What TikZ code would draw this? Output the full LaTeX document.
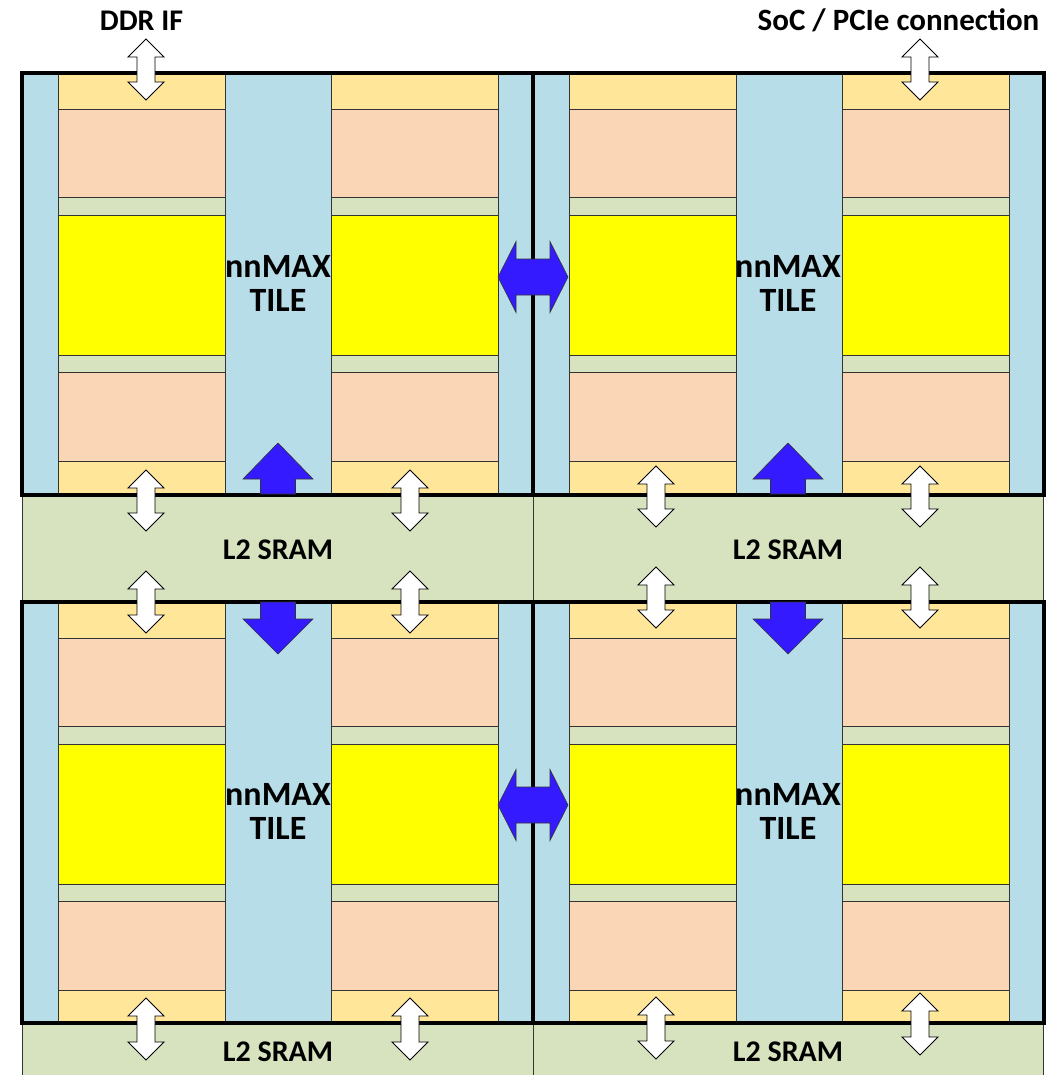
\documentclass[tikz,border=0pt]{standalone}
\usepackage{fontspec}
\setmainfont{Carlito}
\definecolor{tblue}{RGB}{183,221,232}
\definecolor{lyel}{RGB}{255,230,153}
\definecolor{peach}{RGB}{251,214,182}
\definecolor{lgreen}{RGB}{215,227,191}
\definecolor{byel}{RGB}{255,255,0}
\definecolor{barrow}{RGB}{51,26,255}
\tikzset{
  thinbox/.style={draw=black!80, line width=0.8pt},
  thickbox/.style={draw=black, line width=4pt},
  warrow/.style={fill=white, draw=black, line width=0.9pt, line join=miter},
  barrowst/.style={fill=barrow, draw=black!80, line width=0.6pt, line join=miter},
  lbl/.style={font=\bfseries\fontsize{30}{36}\selectfont, inner sep=0pt, anchor=base},
  toplbl/.style={font=\bfseries\fontsize{31}{37}\selectfont, inner sep=0pt, anchor=base},
  tlbl/.style={font=\bfseries\fontsize{34}{40}\selectfont, inner sep=0pt, anchor=base},
}
\newcommand\tilebody[2]{%
  \fill[tblue] (#1,#2) rectangle ++(511,421);
  \foreach \cx in {36,309}{%
    \draw[thinbox, fill=lyel]   (#1+\cx,#2)     rectangle ++(167,36);
    \draw[thinbox, fill=peach]  (#1+\cx,#2+36)  rectangle ++(167,88);
    \draw[thinbox, fill=lgreen] (#1+\cx,#2+124) rectangle ++(167,18);
    \draw[thinbox, fill=byel]   (#1+\cx,#2+142) rectangle ++(167,140);
    \draw[thinbox, fill=lgreen] (#1+\cx,#2+282) rectangle ++(167,17);
    \draw[thinbox, fill=peach]  (#1+\cx,#2+299) rectangle ++(167,89);
    \draw[thinbox, fill=lyel]   (#1+\cx,#2+388) rectangle ++(167,33);
  }%
}
\newcommand\vdarrow[3]{%
  \draw[warrow] (#1,#2) -- ++(18,18) -- ++(-9,0) -- (#1+9,#3-18) -- ++(9,0) -- (#1,#3)
    -- ++(-18,-18) -- ++(9,0) -- (#1-9,#2+18) -- ++(-9,0) -- cycle;}
\newcommand\uparr[3]{%
  \draw[barrowst] (#1,#2) -- ++(35,36) -- ++(-17.5,0) -- (#1+17.5,#3) -- (#1-17.5,#3)
    -- (#1-17.5,#2+36) -- ++(-17.5,0) -- cycle;}
\newcommand\downarr[3]{%
  \draw[barrowst] (#1-17.5,#2) -- (#1+17.5,#2) -- (#1+17.5,#3-35) -- ++(17.5,0) -- (#1,#3)
    -- (#1-35,#3-35) -- ++(17.5,0) -- cycle;}
\newcommand\hdarr[3]{%
  \draw[barrowst] (#1,#3) -- (#1+18,#3-35.5) -- (#1+18,#3-18) -- (#2-18,#3-18) -- (#2-18,#3-35.5)
    -- (#2,#3) -- (#2-18,#3+35.5) -- (#2-18,#3+18) -- (#1+18,#3+18) -- (#1+18,#3+35.5) -- cycle;}
\begin{document}
\begin{tikzpicture}[x=1pt,y=-1pt]
\useasboundingbox (0,0) rectangle (1058,1075);
\clip (0,0) rectangle (1058,1075);
% tiles
\tilebody{22}{73.5}
\tilebody{533}{73.5}
\tilebody{22}{602}
\tilebody{533}{602}
% SRAM bands
\draw[thinbox, fill=lgreen] (22,494.5) rectangle (533,602);
\draw[thinbox, fill=lgreen] (533,494.5) rectangle (1043,602);
\draw[thinbox, fill=lgreen] (22,1023) rectangle (533,1100);
\draw[thinbox, fill=lgreen] (533,1023) rectangle (1043,1100);
% thick tile borders
\draw[thickbox] (22,73.5) rectangle ++(511,421);
\draw[thickbox] (533,73.5) rectangle ++(511,421);
\draw[thickbox] (22,602) rectangle ++(511,421);
\draw[thickbox] (533,602) rectangle ++(511,421);
% labels
\node[lbl] (ddr) at (141.5,31) {DDR IF};
\node[toplbl] (soc) at (898.5,31) {SoC / PCIe connection};
\node[tlbl] (t1a) at (278,277) {nnMAX};
\node[tlbl] (t1b) at (278,311.5) {TILE};
\node[tlbl] (t2a) at (788,277) {nnMAX};
\node[tlbl] (t2b) at (788,311.5) {TILE};
\node[tlbl] (t3a) at (278,805) {nnMAX};
\node[tlbl] (t3b) at (278,839.5) {TILE};
\node[tlbl] (t4a) at (788,805) {nnMAX};
\node[tlbl] (t4b) at (788,839.5) {TILE};
\node[lbl] (s1) at (278,559) {L2 SRAM};
\node[lbl] (s2) at (788,559) {L2 SRAM};
\node[lbl] (s3) at (278,1061) {L2 SRAM};
\node[lbl] (s4) at (788,1061) {L2 SRAM};
% white double arrows
\vdarrow{146}{39}{100}
\vdarrow{920}{39}{100}
\vdarrow{146}{470}{531}
\vdarrow{410}{470}{531}
\vdarrow{656}{466}{527}
\vdarrow{920}{466}{527}
\vdarrow{146}{571}{633}
\vdarrow{410}{571}{633}
\vdarrow{656}{567}{628}
\vdarrow{920}{567}{628}
\vdarrow{146}{998}{1060}
\vdarrow{410}{998}{1060}
\vdarrow{656}{997}{1059}
\vdarrow{920}{993}{1055}
% blue arrows
\uparr{278}{443}{494}
\uparr{788}{443}{494}
\downarr{278}{602}{654}
\downarr{788}{602}{654}
\hdarr{498}{568}{277}
\hdarr{498}{568}{805}
\end{tikzpicture}
\end{document}
